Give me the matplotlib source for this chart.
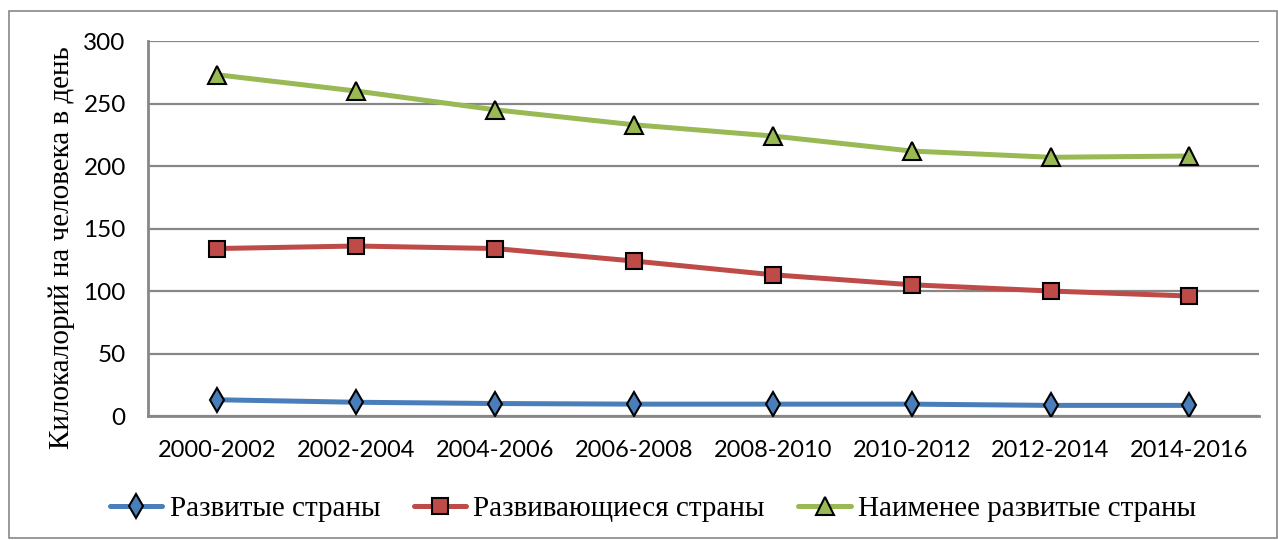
import matplotlib.pyplot as plt
from matplotlib.patches import Rectangle

# ---- data ----
periods = ["2000-2002", "2002-2004", "2004-2006", "2006-2008",
           "2008-2010", "2010-2012", "2012-2014", "2014-2016"]
developed = [13, 11, 10, 9.5, 9.5, 9.5, 8.5, 8.5]
developing = [134, 136, 134, 124, 113, 105, 100, 96]
least_developed = [273, 260, 245, 233, 224, 212, 207, 208]

series_names = ["Развитые страны", "Развивающиеся страны", "Наименее развитые страны"]
y_ticks = [0, 50, 100, 150, 200, 250, 300]

# ---- styles ----
COLORS = ["#4A7EBB", "#BE4B48", "#98B954"]
MARKERS = ["d", "s", "^"]
MSIZES = [12, 12, 12.5]
GRID = "#878787"
TICK_FONT = "Lato"
SERIF = "Liberation Serif"

fig = plt.figure(figsize=(12.78, 5.4), dpi=100)
ax = fig.add_axes([0.1158, 0.2296, 0.8692, 0.6944])

x = list(range(len(periods)))
for vals, name, col, mk, ms in zip([developed, developing, least_developed],
                                   series_names, COLORS, MARKERS, MSIZES):
    ax.plot(x, vals, color=col, lw=3.6, marker=mk, markersize=ms,
            markerfacecolor=col, markeredgecolor="black", markeredgewidth=1.5,
            label=name, zorder=3, solid_capstyle="round")

ax.set_xlim(-0.5, len(periods) - 0.5)
ax.set_ylim(0, 300)
ax.set_yticks(y_ticks)
ax.set_xticks(x)
ax.set_xticklabels(periods, fontsize=17, family=TICK_FONT)
for lab in ax.get_yticklabels():
    lab.set_fontsize(17.5); lab.set_family(TICK_FONT)
ax.tick_params(length=0)
ax.tick_params(axis="y", pad=16)
ax.tick_params(axis="x", pad=17)

ax.grid(axis="y", color=GRID, lw=1.6, zorder=0)
ax.set_axisbelow(True)
for s in ["top", "right"]:
    ax.spines[s].set_visible(False)
for s in ["left", "bottom"]:
    ax.spines[s].set_color(GRID); ax.spines[s].set_linewidth(2)

ax.set_ylabel("Килокалорий на человека в день", fontsize=21, family=SERIF)
ax.yaxis.set_label_coords(-0.066, 0.45)

fig.legend(loc="center", bbox_to_anchor=(0.511, 0.058), ncol=3, frameon=False,
           prop={"family": SERIF, "size": 21}, handlelength=1.8,
           handletextpad=0.25, columnspacing=1.15)

# outer chart border
fig.patches.append(Rectangle((0.007, 0.004), 0.992, 0.976, transform=fig.transFigure,
                             fill=False, edgecolor="#888888", lw=1.2))

fig.savefig("out.png", dpi=100)
